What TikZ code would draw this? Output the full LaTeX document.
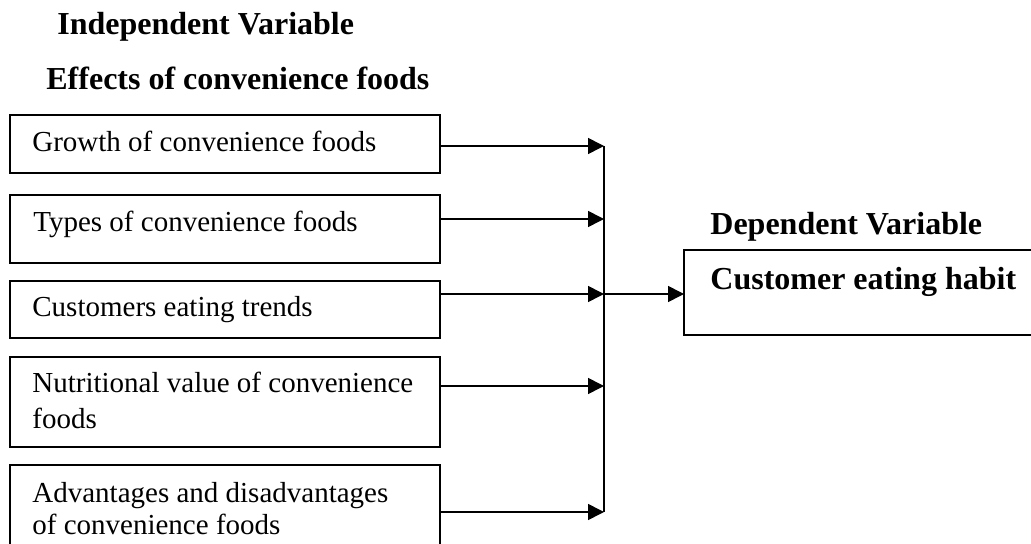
\documentclass[tikz,border=0pt]{standalone}
\usepackage{fontspec}
\setmainfont{Liberation Serif}
\usetikzlibrary{arrows.meta}
\begin{document}
\begin{tikzpicture}[x=0.5pt,y=-0.5pt,
  boxst/.style={draw,line width=0.8pt,rectangle,inner sep=0pt},
  txt/.style={inner sep=0pt,anchor=base west,font=\fontsize{14.5pt}{17pt}\selectfont},
  head/.style={inner sep=0pt,anchor=base west,font=\fontsize{16pt}{19pt}\selectfont\bfseries},
  conn/.style={line width=0.8pt},
  arr/.style={line width=0.8pt,-{Triangle[length=8pt,width=8pt]}}]
\useasboundingbox (0,0) rectangle (1031,544);
% headings
\node[head] (hind) at (57,35) {Independent Variable};
\node[head] (heff) at (46,90) {Effects of convenience foods};
\node[head] (hdep) at (710,235) {Dependent Variable};
% left boxes
\node[boxst,minimum width=215pt,minimum height=29pt] (b1) at (225,144) {};
\node[boxst,minimum width=215pt,minimum height=34pt] (b2) at (225,229) {};
\node[boxst,minimum width=215pt,minimum height=28.5pt] (b3) at (225,309.5) {};
\node[boxst,minimum width=215pt,minimum height=45pt] (b4) at (225,402) {};
\node[boxst,minimum width=215pt,minimum height=40pt] (b5) at (225,505) {};
% texts
\node[txt] (t1) at (32,152) {Growth of convenience foods};
\node[txt] (t2) at (33,232) {Types of convenience foods};
\node[txt] (t3) at (32,317) {Customers eating trends};
\node[txt] (t4a) at (32,393) {Nutritional value of convenience};
\node[txt] (t4b) at (32,428) {foods};
\node[txt] (t5a) at (32,502) {Advantages and disadvantages};
\node[txt] (t5b) at (32,534) {of convenience foods};
% right box (continues past the right edge)
\coordinate (rtl) at (684,250);
\coordinate (rbl) at (684,335);
\draw[conn] (1045,250) -- (rtl) -- (rbl) -- (1045,335);
\node[head] (tcust) at (710,290) {Customer eating habit};
% bus
\coordinate (p1) at (604,146);
\coordinate (p2) at (604,219);
\coordinate (p3) at (604,294);
\coordinate (p4) at (604,386);
\coordinate (p5) at (604,512);
\draw[conn] (p1) -- (p5);
\draw[arr] (b1.east |- p1) -- (p1);
\draw[arr] (b2.east |- p2) -- (p2);
\draw[arr] (b3.east |- p3) -- (p3);
\draw[arr] (b4.east |- p4) -- (p4);
\draw[arr] (b5.east |- p5) -- (p5);
\draw[arr] (p3) -- (rtl |- p3);
\end{tikzpicture}
\end{document}
